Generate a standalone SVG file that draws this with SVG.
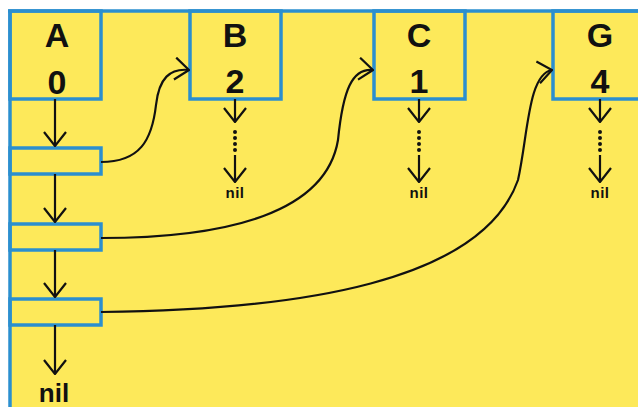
<svg xmlns="http://www.w3.org/2000/svg" width="638" height="407" viewBox="0 0 638 407">
  <style>
    .frame { fill: none; stroke: #2b8fcf; stroke-width: 3.5; }
    .label { font-family: "Liberation Sans", Arial, sans-serif; font-weight: bold; fill: #111; text-anchor: middle; }
    .big { font-size: 34px; }
    .nilbig { font-size: 26px; }
    .nilsmall { font-size: 15px; letter-spacing: 0.5px; }
    .link { fill: none; stroke: #111; stroke-width: 2.2; }
    .dots { fill: none; stroke: #111; stroke-width: 4; stroke-linecap: round; stroke-dasharray: 0 6; }
  </style>
  <defs>
    <marker id="vhead" viewBox="0 0 16 24" refX="15" refY="12" markerWidth="16" markerHeight="24" markerUnits="userSpaceOnUse" orient="auto">
      <path d="M1,1 L15,12 L1,23" fill="none" stroke="#111" stroke-width="2.2"/>
    </marker>
  </defs>

  <!-- background panel -->
  <rect x="0" y="0" width="638" height="407" fill="#ffffff"/>
  <rect x="10" y="11" width="628" height="396" fill="#fde95a"/>
  <line x1="8" y1="11" x2="638" y2="11" class="frame"/>
  <line x1="10" y1="11" x2="10" y2="407" class="frame"/>

  <!-- vertex A and its adjacency cells -->
  <g id="node-A">
    <rect x="10" y="11" width="91" height="88" class="frame"/>
    <text x="57" y="47" class="label big">A</text>
    <text x="57" y="94" class="label big">0</text>
  </g>
  <g id="cell-1"><rect x="10" y="148" width="91" height="26" class="frame"/></g>
  <g id="cell-2"><rect x="10" y="224" width="91" height="26" class="frame"/></g>
  <g id="cell-3"><rect x="10" y="299" width="91" height="26" class="frame"/></g>
  <g id="nil-A"><text x="54" y="402" class="label nilbig">nil</text></g>

  <!-- vertex B -->
  <g id="node-B">
    <rect x="190" y="11" width="91" height="88" class="frame"/>
    <text x="235" y="47" class="label big">B</text>
    <text x="235" y="93" class="label big">2</text>
    <text x="235" y="198" class="label nilsmall">nil</text>
  </g>
  <!-- vertex C -->
  <g id="node-C">
    <rect x="374" y="11" width="91" height="88" class="frame"/>
    <text x="419" y="47" class="label big">C</text>
    <text x="419" y="93" class="label big">1</text>
    <text x="419" y="198" class="label nilsmall">nil</text>
  </g>
  <!-- vertex G -->
  <g id="node-G">
    <rect x="553" y="11" width="100" height="88" class="frame"/>
    <text x="600" y="47" class="label big">G</text>
    <text x="600" y="93" class="label big">4</text>
    <text x="600" y="198" class="label nilsmall">nil</text>
  </g>

  <g id="connectors">
    <!-- A's adjacency chain -->
    <line x1="55" y1="99" x2="55" y2="146" class="link" marker-end="url(#vhead)"/>
    <line x1="55" y1="174" x2="55" y2="222" class="link" marker-end="url(#vhead)"/>
    <line x1="55" y1="250" x2="55" y2="297" class="link" marker-end="url(#vhead)"/>
    <line x1="55" y1="325" x2="55" y2="374" class="link" marker-end="url(#vhead)"/>

    <!-- cells pointing to their vertices -->
    <path d="M101,162 C140,162 152,140 156,105 C159,78 170,68 189,70" class="link" marker-end="url(#vhead)"/>
    <path d="M101,238 C230,238 326,212 338,140 C343,90 352,68 373,70" class="link" marker-end="url(#vhead)"/>
    <path d="M101,312 C300,310 482,282 518,180 C528,135 528,74 552,70" class="link" marker-end="url(#vhead)"/>

    <!-- elided lists under B, C, G -->
    <line x1="235" y1="99" x2="235" y2="122" class="link" marker-end="url(#vhead)"/>
    <line x1="235" y1="132" x2="235" y2="152" class="dots"/>
    <line x1="235" y1="155" x2="235" y2="182" class="link" marker-end="url(#vhead)"/>

    <line x1="419" y1="99" x2="419" y2="122" class="link" marker-end="url(#vhead)"/>
    <line x1="419" y1="132" x2="419" y2="152" class="dots"/>
    <line x1="419" y1="155" x2="419" y2="182" class="link" marker-end="url(#vhead)"/>

    <line x1="600" y1="99" x2="600" y2="122" class="link" marker-end="url(#vhead)"/>
    <line x1="600" y1="132" x2="600" y2="152" class="dots"/>
    <line x1="600" y1="155" x2="600" y2="182" class="link" marker-end="url(#vhead)"/>
  </g>
</svg>
